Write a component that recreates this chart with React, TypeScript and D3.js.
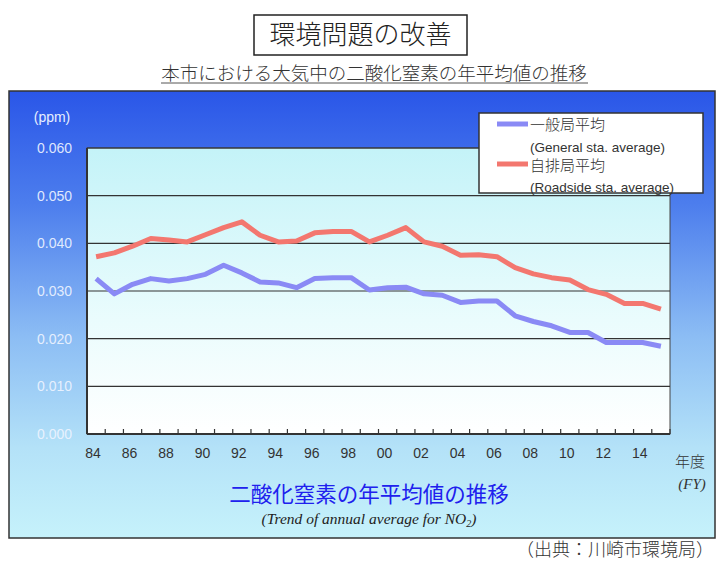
import React from 'react';
import * as d3 from 'd3';

const years = [
  '84', '85', '86', '87', '88', '89', '90', '91', '92', '93', '94', '95', '96', '97', '98', '99',
  '00', '01', '02', '03', '04', '05', '06', '07', '08', '09', '10', '11', '12', '13', '14', '15',
];

// 一般局平均 (General sta. average)
const generalAvg = [
  0.0326, 0.0294, 0.0314, 0.0326, 0.0321, 0.0326, 0.0335, 0.0354, 0.0338, 0.0319, 0.0317, 0.0307,
  0.0326, 0.0328, 0.0328, 0.0302, 0.0307, 0.0308, 0.0294, 0.0291, 0.0276, 0.0279, 0.0279, 0.0248,
  0.0236, 0.0227, 0.0213, 0.0213, 0.0192, 0.0192, 0.0192, 0.0184,
];

// 自排局平均 (Roadside sta. average)
const roadsideAvg = [
  0.0372, 0.0380, 0.0394, 0.0410, 0.0407, 0.0403, 0.0418, 0.0433, 0.0445, 0.0417, 0.0403, 0.0405,
  0.0422, 0.0425, 0.0425, 0.0403, 0.0417, 0.0433, 0.0403, 0.0394, 0.0375, 0.0376, 0.0372, 0.0349,
  0.0336, 0.0328, 0.0323, 0.0303, 0.0293, 0.0274, 0.0274, 0.0262,
];

const yTicks = [0, 0.01, 0.02, 0.03, 0.04, 0.05, 0.06];

const JP = '"Noto Sans CJK JP", "Noto Sans", sans-serif';
const SANS = '"Liberation Sans", Arial, sans-serif';
const SERIF = '"Liberation Serif", "DejaVu Serif", serif';

const W = 718;
const H = 563;
const plot = { left: 87, right: 670, top: 148, bottom: 434 };

const App: React.FC = () => {
  const x = d3.scaleBand<string>().domain(years).range([plot.left, plot.right]);
  const y = d3.scaleLinear().domain([0, 0.06]).range([plot.bottom, plot.top]);
  const bw = x.bandwidth();

  const line = d3.line<number>()
    .x((_, i) => (x(years[i]) || 0) + bw / 2)
    .y(d => y(d));

  const fmt = d3.format('.3f');

  return (
    <svg width={W} height={H} style={{ position: 'absolute', left: 0, top: 0, background: '#fff' }}>
      <defs>
        <linearGradient id="panelGrad" x1="0" y1="0" x2="0" y2="1">
          <stop offset="0%" stopColor="#2a56e8" />
          <stop offset="25%" stopColor="#4c7ded" />
          <stop offset="55%" stopColor="#8cbdf4" />
          <stop offset="80%" stopColor="#b4e2f8" />
          <stop offset="100%" stopColor="#c6f2fb" />
        </linearGradient>
        <linearGradient id="plotGrad" x1="0" y1="0" x2="0" y2="1">
          <stop offset="0%" stopColor="#c4f3f8" />
          <stop offset="60%" stopColor="#eafcfd" />
          <stop offset="100%" stopColor="#ffffff" />
        </linearGradient>
      </defs>

      {/* title box */}
      <rect x={254} y={15} width={213} height={40} fill="#fff" stroke="#222" strokeWidth={1.5} />
      <text x={360.5} y={44} textAnchor="middle" fontFamily={JP} fontWeight={300} fontSize={26} fill="#222">
        環境問題の改善
      </text>

      {/* subtitle, underlined */}
      <text x={374} y={80} textAnchor="middle" fontFamily={JP} fontWeight={300} fontSize={18.5} fill="#333">
        本市における大気中の二酸化窒素の年平均値の推移
      </text>
      <line x1={161} x2={588} y1={83} y2={83} stroke="#555" strokeWidth={1} />

      {/* chart panel */}
      <rect x={9} y={91} width={706} height={447} fill="url(#panelGrad)" stroke="#333" strokeWidth={1.5} />

      {/* plot area */}
      <rect x={plot.left} y={plot.top} width={plot.right - plot.left} height={plot.bottom - plot.top}
        fill="url(#plotGrad)" stroke="#444" strokeWidth={1} />

      {/* gridlines */}
      {yTicks.map(t => (
        <line key={t} x1={plot.left} x2={plot.right} y1={y(t)} y2={y(t)}
          stroke="#333" strokeWidth={t === 0 ? 2 : 1.2} />
      ))}
      <line x1={plot.left} x2={plot.left} y1={plot.top} y2={plot.bottom} stroke="#333" strokeWidth={2} />

      {/* x ticks at category boundaries */}
      {years.map(d => (
        <line key={d} x1={x(d) || 0} x2={x(d) || 0}
          y1={plot.bottom} y2={plot.bottom - 5} stroke="#333" strokeWidth={1.2} />
      ))}
      <line x1={plot.right} x2={plot.right} y1={plot.bottom} y2={plot.bottom - 5} stroke="#333" strokeWidth={1.2} />

      {/* y tick labels */}
      <text x={52} y={122} textAnchor="middle" fontFamily={SANS} fontSize={14} fill="#e6efff">(ppm)</text>
      {yTicks.map(t => (
        <text key={t} x={72} y={y(t) + 5} textAnchor="end" fontFamily={SANS} fontSize={14}
          fill="#eef4ff" fillOpacity={0.92}>
          {fmt(t)}
        </text>
      ))}

      {/* x tick labels */}
      {years.filter((_, i) => i % 2 === 0).map(d => (
        <text key={d} x={(x(d) || 0) + bw / 2 - 3} y={458} textAnchor="middle" fontFamily={SANS}
          fontSize={14} fill="#333">
          {d}
        </text>
      ))}
      <text x={690} y={467} textAnchor="middle" fontFamily={JP} fontWeight={300} fontSize={15} fill="#333">年度</text>
      <text x={692} y={489} textAnchor="middle" fontFamily={SERIF} fontStyle="italic" fontSize={15} fill="#333">(FY)</text>

      {/* series */}
      <path d={line(generalAvg) || ''} fill="none" stroke="#8a8af5" strokeWidth={5} strokeLinejoin="round" />
      <path d={line(roadsideAvg) || ''} fill="none" stroke="#f3776f" strokeWidth={5} strokeLinejoin="round" />

      {/* legend */}
      <rect x={479} y={113} width={224} height={80} fill="#fff" stroke="#333" strokeWidth={1.5} />
      <line x1={497} x2={528} y1={124} y2={124} stroke="#8a8af5" strokeWidth={5} />
      <text x={530} y={130} fontFamily={JP} fontWeight={300} fontSize={15} fill="#333">一般局平均</text>
      <text x={530} y={152} fontFamily={SANS} fontSize={13.5} fill="#333">(General sta. average)</text>
      <line x1={497} x2={528} y1={164} y2={164} stroke="#f3776f" strokeWidth={5} />
      <text x={530} y={171} fontFamily={JP} fontWeight={300} fontSize={15} fill="#333">自排局平均</text>
      <text x={530} y={192} fontFamily={SANS} fontSize={13.5} fill="#333">(Roadside sta. average)</text>

      {/* captions */}
      <text x={369} y={502} textAnchor="middle" fontFamily={JP} fontSize={21.5} fill="#2020ee">
        二酸化窒素の年平均値の推移
      </text>
      <text x={369} y={524} textAnchor="middle" fontFamily={SERIF} fontStyle="italic" fontSize={15.5} fill="#222">
        (Trend of annual average for NO<tspan fontSize={10} dy={3}>2</tspan><tspan dy={-3}>)</tspan>
      </text>

      <text x={714} y={556} textAnchor="end" fontFamily={JP} fontWeight={300} fontSize={18} fill="#333">
        （出典：川崎市環境局）
      </text>
    </svg>
  );
};

export default App;
